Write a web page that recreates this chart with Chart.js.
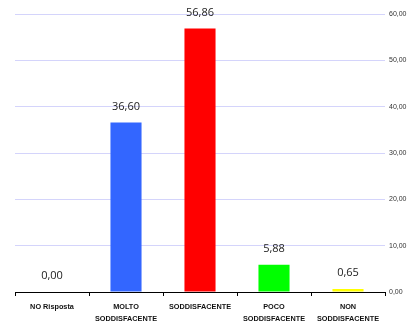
<!DOCTYPE html>
<html><head><meta charset="utf-8">
<style>html,body{margin:0;padding:0;overflow:hidden;background:#fff}#wrap{width:413px;height:330px;position:relative}</style>
<script src="https://cdn.jsdelivr.net/npm/chart.js@4/dist/chart.umd.min.js"></script>
</head><body><div id="wrap"><canvas id="c" width="413" height="330"></canvas></div>
<script>
const categories = [["NO Risposta"], ["MOLTO", "SODDISFACENTE"], ["SODDISFACENTE"], ["POCO", "SODDISFACENTE"], ["NON", "SODDISFACENTE"]];
const values = [0.00, 36.60, 56.86, 5.88, 0.65];
const barColors = ["#ffffff", "#3366ff", "#ff0000", "#00ff00", "#ffff00"];
const fmt = v => v.toFixed(2).replace('.', ',');

const labelPlugin = {
  id: 'vals',
  afterDatasetsDraw(chart) {
    const ctx = chart.ctx;
    const meta = chart.getDatasetMeta(0);
    ctx.save();
    ctx.font = '11px "Open Sans", "Liberation Sans", sans-serif';
    ctx.fillStyle = '#222';
    ctx.textAlign = 'center';
    ctx.textBaseline = 'middle';
    meta.data.forEach((el, i) => {
      ctx.fillText(fmt(values[i]), el.x, el.y - 16);
    });
    ctx.restore();
  }
};

new Chart(document.getElementById('c'), {
  type: 'bar',
  data: { labels: categories, datasets: [{ data: values, backgroundColor: barColors, borderWidth: 0, barPercentage: 0.42, categoryPercentage: 1 }] },
  options: {
    responsive: false, animation: false,
    layout: { padding: { left: 15, top: 14, right: 0, bottom: 0 } },
    plugins: { legend: { display: false }, tooltip: { enabled: false } },
    scales: {
      x: {
        grid: { display: true, offset: true, drawOnChartArea: false, drawTicks: true, tickLength: 4, color: '#000', lineWidth: 1 },
        border: { display: true, color: '#000', width: 1 },
        ticks: { color: '#111', font: { size: 7.3, weight: 'bold', family: '"Liberation Sans", Arial, sans-serif', lineHeight: 1.65 }, padding: 5, maxRotation: 0, autoSkip: false },
        afterFit(s) { s.height = 38; }
      },
      y: {
        position: 'right', min: 0, max: 60,
        grid: { color: '#d4d4fb', lineWidth: 1, drawTicks: false },
        border: { display: false },
        ticks: { stepSize: 10, color: '#333', padding: 4, font: { size: 7, family: '"Liberation Sans", Arial, sans-serif' }, callback: v => fmt(v) },
        afterFit(s) { s.width = 28; }
      }
    }
  },
  plugins: [labelPlugin]
});
</script></body></html>
